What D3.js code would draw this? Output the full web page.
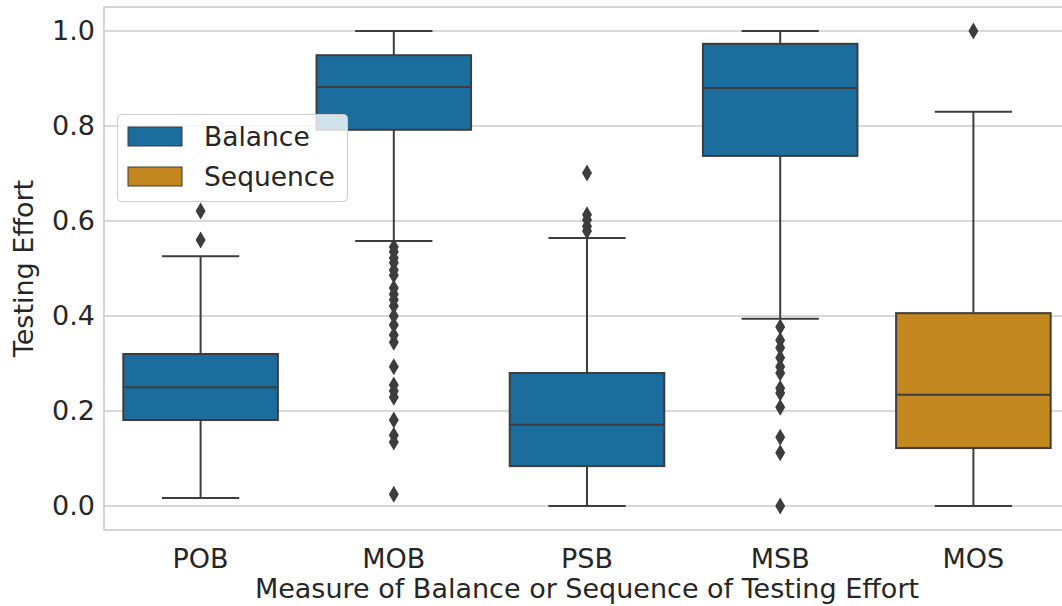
<!DOCTYPE html>
<html>
<head>
<meta charset="utf-8">
<script src="https://cdn.jsdelivr.net/npm/d3@7"></script>
<style>
  body { margin: 0; background: #fff; }
  text { font-family: "DejaVu Sans", sans-serif; fill: #262626; }
</style>
</head>
<body>
<svg width="1062" height="606"></svg>
<script>
// data
var categories = ["POB", "MOB", "PSB", "MSB", "MOS"];
var kinds = ["Balance", "Balance", "Balance", "Balance", "Sequence"];
// [lower whisker, q1, median, q3, upper whisker]
var stats = [
    [0.017, 0.181, 0.250, 0.320, 0.526],
    [0.558, 0.792, 0.882, 0.949, 1.000],
    [0.000, 0.084, 0.171, 0.280, 0.564],
    [0.394, 0.737, 0.880, 0.973, 1.000],
    [0.000, 0.122, 0.234, 0.406, 0.830]
];
var outliers = [
    [0.621, 0.560],
    [0.545, 0.535, 0.522, 0.512, 0.497, 0.486, 0.459, 0.446, 0.434, 0.421,
     0.400, 0.381, 0.360, 0.345, 0.293, 0.255, 0.242, 0.229, 0.181, 0.149,
     0.135, 0.025],
    [0.701, 0.613, 0.602, 0.589, 0.579],
    [0.377, 0.349, 0.333, 0.312, 0.293, 0.280, 0.248, 0.238, 0.208, 0.145,
     0.112, 0.000],
    [1.000]
];
var yTicks = [0.0, 0.2, 0.4, 0.6, 0.8, 1.0];
var legendItems = ["Balance", "Sequence"];
var colors = {Balance: "#1a6d9c", Sequence: "#c3871f"};

// display
// the right side of the plot runs a little past the picture edge
var margin = {top: 7, right: -8, bot: 76, left: 104};
var W = 1062, H = 606;
var lineCol = "#3d3d3d";
var fs = "27px";

var svg = d3.select("svg");
var x = d3.scaleBand().domain(categories).range([margin.left, W - margin.right]).paddingInner(0).paddingOuter(0);
var y = d3.scaleLinear().domain([-0.0505, 1.0505]).range([H - margin.bot, margin.top]);

// grid
svg.append("g").selectAll("line").data(yTicks).enter().append("line")
    .attr("x1", margin.left).attr("x2", W - margin.right)
    .attr("y1", function(d) { return y(d); }).attr("y2", function(d) { return y(d); })
    .attr("stroke", "#cccccc").attr("stroke-width", 1.3);

// frame
svg.append("rect")
    .attr("x", margin.left).attr("y", margin.top)
    .attr("width", W - margin.right - margin.left).attr("height", H - margin.bot - margin.top)
    .attr("fill", "none").attr("stroke", "#cccccc").attr("stroke-width", 1.6);

// boxes
var bw = x.bandwidth() * 0.8;
var boxes = svg.append("g").selectAll("g").data(categories).enter().append("g");
boxes.each(function(c, i) {
    var g = d3.select(this);
    var s = stats[i];
    var cx = x(c) + x.bandwidth() / 2;
    g.append("line").attr("x1", cx).attr("x2", cx).attr("y1", y(s[3])).attr("y2", y(s[4]))
        .attr("stroke", lineCol).attr("stroke-width", 2);
    g.append("line").attr("x1", cx).attr("x2", cx).attr("y1", y(s[1])).attr("y2", y(s[0]))
        .attr("stroke", lineCol).attr("stroke-width", 2);
    [s[0], s[4]].forEach(function(v) {
        g.append("line").attr("x1", cx - bw / 4).attr("x2", cx + bw / 4)
            .attr("y1", y(v)).attr("y2", y(v))
            .attr("stroke", lineCol).attr("stroke-width", 2);
    });
    g.append("rect").attr("x", cx - bw / 2).attr("y", y(s[3]))
        .attr("width", bw).attr("height", y(s[1]) - y(s[3]))
        .attr("fill", colors[kinds[i]]).attr("stroke", lineCol).attr("stroke-width", 2);
    g.append("line").attr("x1", cx - bw / 2).attr("x2", cx + bw / 2)
        .attr("y1", y(s[2])).attr("y2", y(s[2]))
        .attr("stroke", lineCol).attr("stroke-width", 2);
    g.selectAll("path").data(outliers[i]).enter().append("path")
        .attr("d", function(v) {
            var py = y(v);
            return "M" + cx + "," + (py - 8.5) + "L" + (cx + 5) + "," + py +
                   "L" + cx + "," + (py + 8.5) + "L" + (cx - 5) + "," + py + "Z";
        })
        .attr("fill", lineCol);
});

// axes
svg.append("g").selectAll("text").data(yTicks).enter().append("text")
    .attr("x", margin.left - 9).attr("y", function(d) { return y(d); })
    .attr("dy", "0.35em").attr("text-anchor", "end")
    .attr("font-size", fs)
    .text(function(d) { return d.toFixed(1); });

svg.append("g").selectAll("text").data(categories).enter().append("text")
    .attr("x", function(d) { return x(d) + x.bandwidth() / 2; })
    .attr("y", 568)
    .attr("text-anchor", "middle").attr("font-size", fs)
    .text(function(d) { return d; });

svg.append("text")
    .attr("x", 587).attr("y", 598)
    .attr("text-anchor", "middle").attr("font-size", fs)
    .text("Measure of Balance or Sequence of Testing Effort");

svg.append("text")
    .attr("transform", "translate(33," + y(0.5) + ") rotate(-90)")
    .attr("text-anchor", "middle").attr("font-size", fs)
    .text("Testing Effort");

// legend
var lg = svg.append("g");
lg.append("rect").attr("x", 117.5).attr("y", 114.5).attr("width", 230).attr("height", 87)
    .attr("rx", 4).attr("fill", "white").attr("fill-opacity", 0.8)
    .attr("stroke", "#cccccc").attr("stroke-width", 1);
legendItems.forEach(function(k, i) {
    lg.append("rect").attr("x", 128).attr("y", 127 + i * 40).attr("width", 54).attr("height", 19)
        .attr("fill", colors[k]).attr("stroke", lineCol).attr("stroke-width", 1);
    lg.append("text").attr("x", 204).attr("y", 146 + i * 40)
        .attr("font-size", "26.5px").text(k);
});
</script>
</body>
</html>
